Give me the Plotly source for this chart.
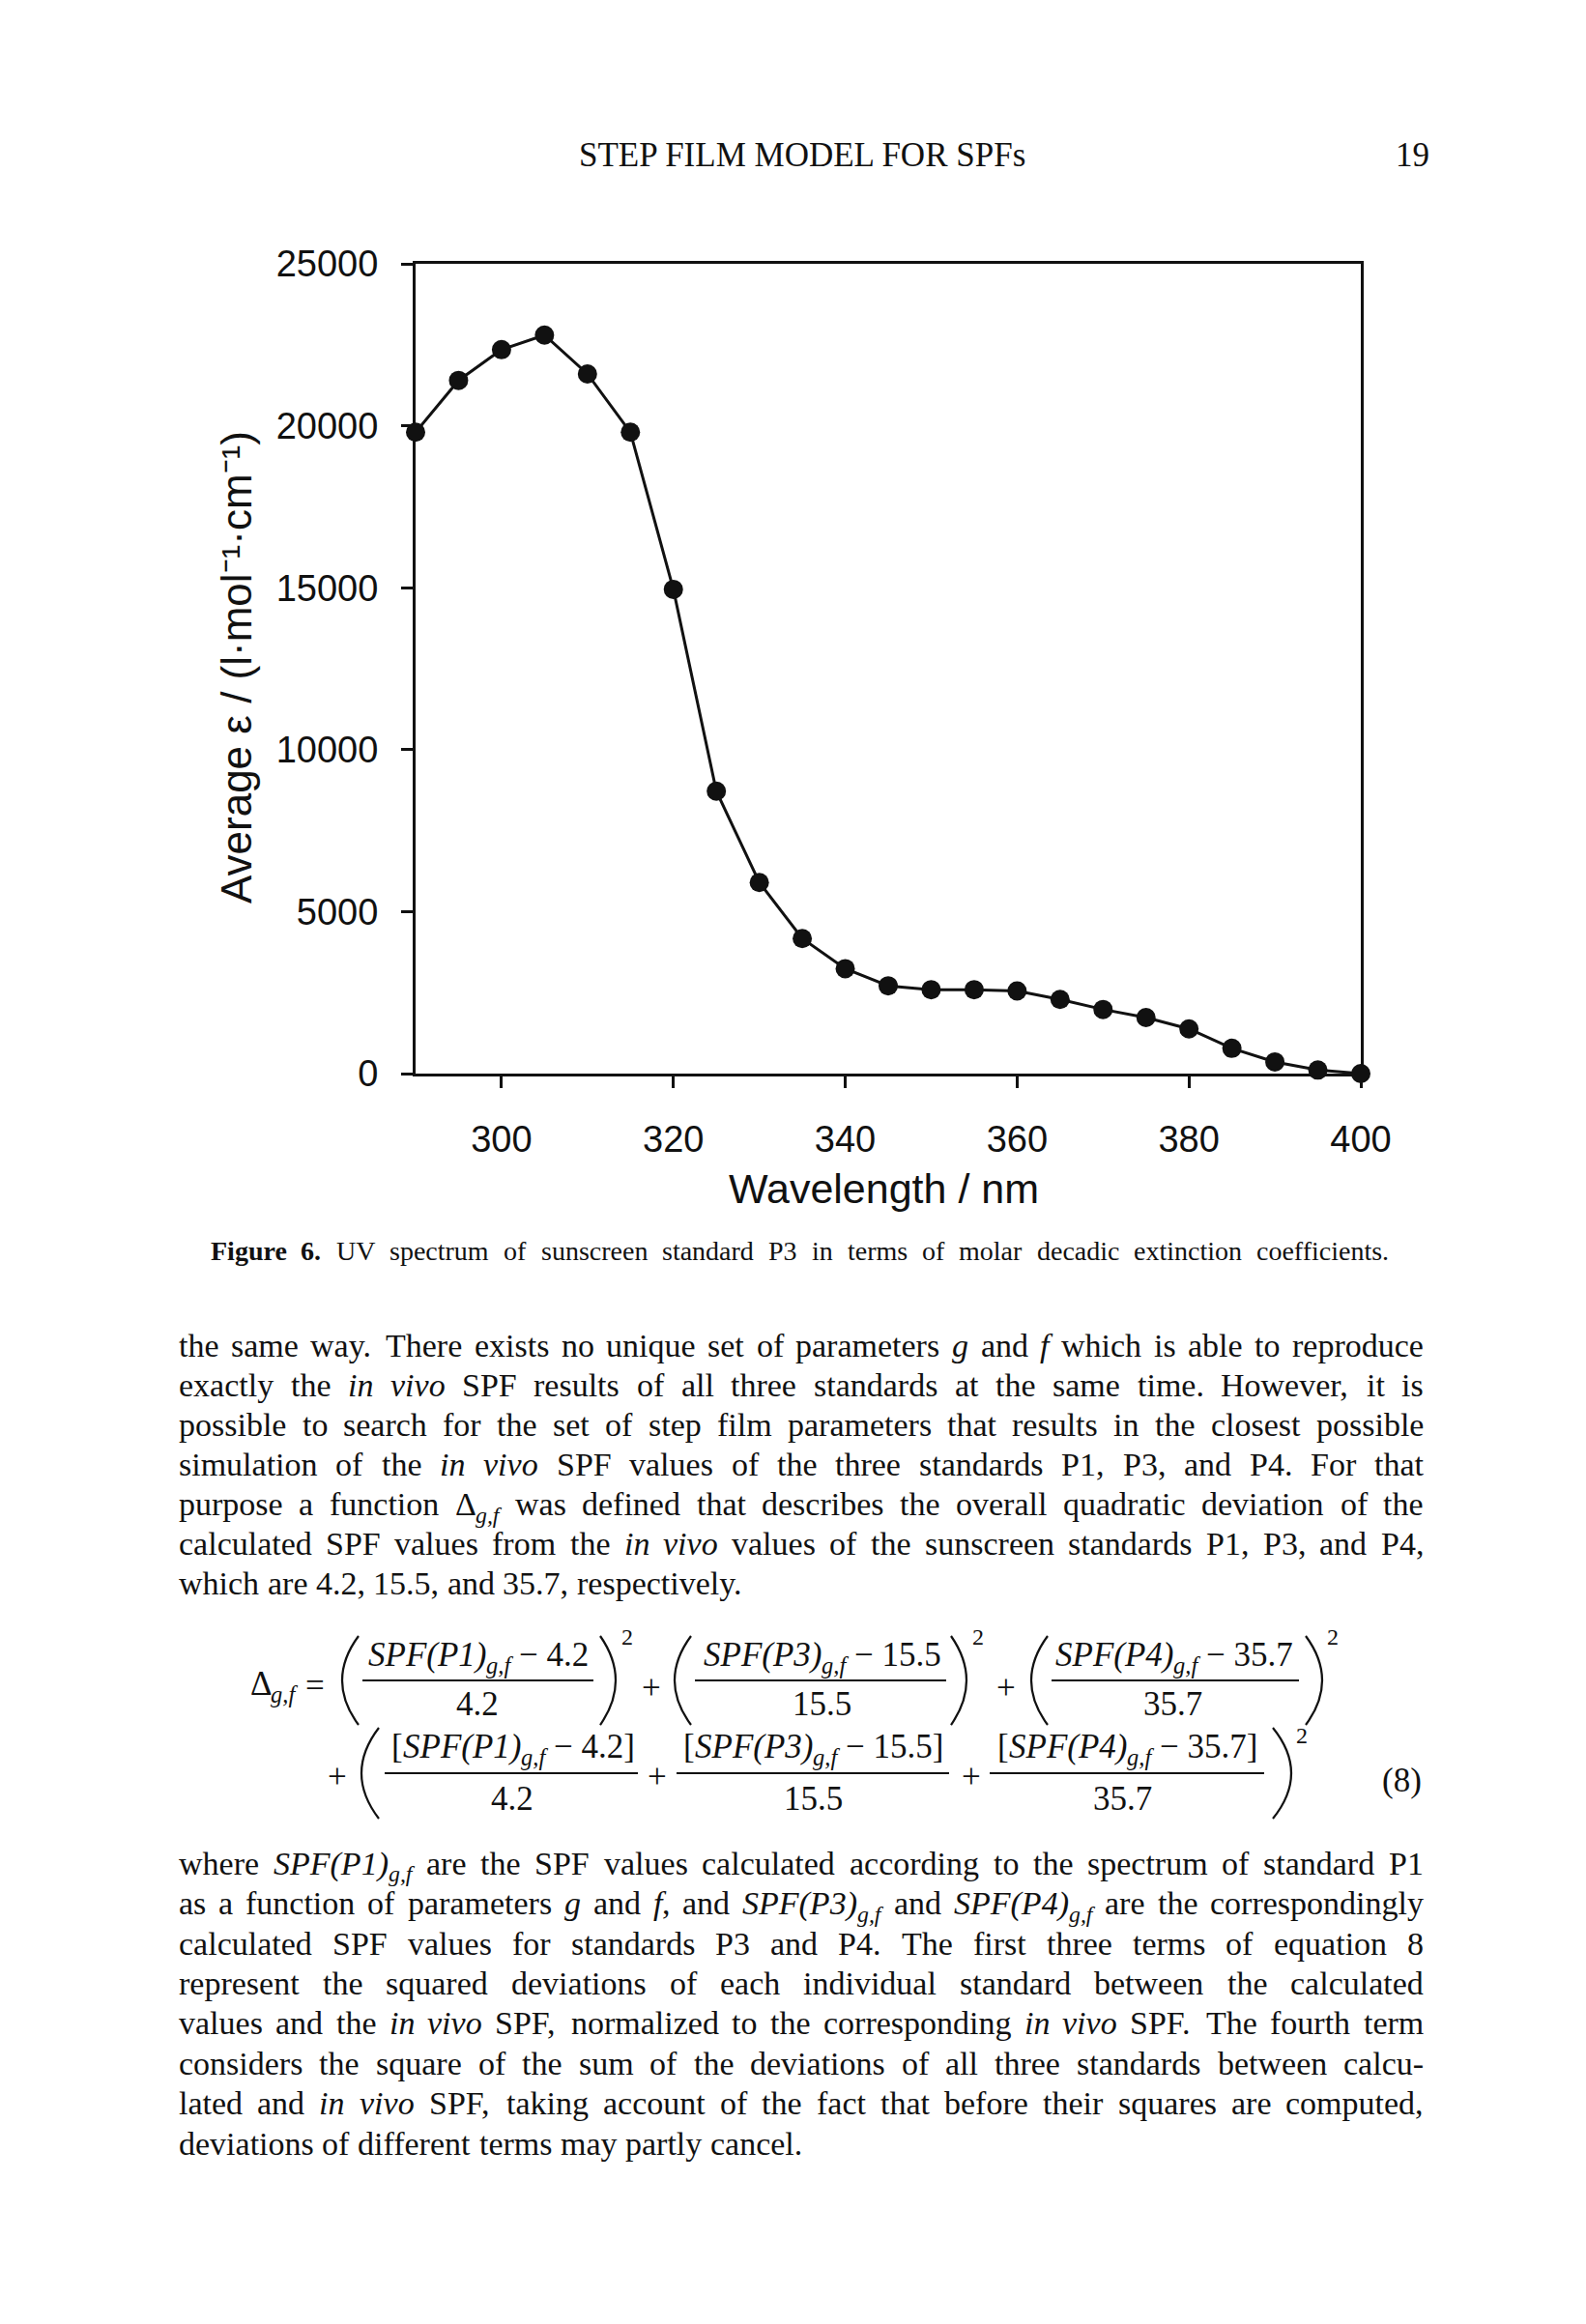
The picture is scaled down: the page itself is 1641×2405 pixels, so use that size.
import re
import plotly.graph_objects as go

# ---------------- data ----------------
wavelength = [290, 295, 300, 305, 310, 315, 320, 325, 330, 335, 340, 345,
              350, 355, 360, 365, 370, 375, 380, 385, 390, 395, 400]
epsilon = [19800, 21400, 22350, 22800, 21600, 19800, 14950, 8720, 5900, 4170,
           3240, 2710, 2590, 2590, 2550, 2290, 1980, 1730, 1380, 780, 360, 110, 0]
x_ticks = [300, 320, 340, 360, 380, 400]
y_ticks = [0, 5000, 10000, 15000, 20000, 25000]
x_title = "Wavelength / nm"
y_title = "Average ε / (l·mol⁻¹·cm⁻¹)"

header = "STEP FILM MODEL FOR SPFs"
page_no = "19"
caption = ("<b>Figure</b> <b>6.</b> UV spectrum of sunscreen standard P3 in terms of "
           "molar decadic extinction coefficients.")
para1 = [
    "the same way. There exists no unique set of parameters <i>g</i> and <i>f</i> which is able to reproduce",
    "exactly the <i>in</i> <i>vivo</i> SPF results of all three standards at the same time. However, it is",
    "possible to search for the set of step film parameters that results in the closest possible",
    "simulation of the <i>in</i> <i>vivo</i> SPF values of the three standards P1, P3, and P4. For that",
    "purpose a function Δ<sub><i>g,f</i></sub> was defined that describes the overall quadratic deviation of the",
    "calculated SPF values from the <i>in</i> <i>vivo</i> values of the sunscreen standards P1, P3, and P4,",
    "which are 4.2, 15.5, and 35.7, respectively.",
]
para2 = [
    "where <i>SPF(P1)</i><sub><i>g,f</i></sub> are the SPF values calculated according to the spectrum of standard P1",
    "as a function of parameters <i>g</i> and <i>f</i>, and <i>SPF(P3)</i><sub><i>g,f</i></sub> and <i>SPF(P4)</i><sub><i>g,f</i></sub> are the correspondingly",
    "calculated SPF values for standards P3 and P4. The first three terms of equation 8",
    "represent the squared deviations of each individual standard between the calculated",
    "values and the <i>in</i> <i>vivo</i> SPF, normalized to the corresponding <i>in</i> <i>vivo</i> SPF. The fourth term",
    "considers the square of the sum of the deviations of all three standards between calcu-",
    "lated and <i>in</i> <i>vivo</i> SPF, taking account of the fact that before their squares are computed,",
    "deviations of different terms may partly cancel.",
]
std_names = ["P1", "P3", "P4"]
std_spf = ["4.2", "15.5", "35.7"]

# ---------------- page geometry (pixels) ----------------
W, H = 1641, 2405
L, R, T, B = 422, 1400, 265, 1103


def px(x):
    return (x - L) / (R - L)


def py(y):
    return (B - y) / (B - T)


SERIF = "Liberation Serif"
SANS = "Liberation Sans"
INK = "#111111"
ASC = 0.891  # ascent of Liberation Serif
SUB_SCALE = 0.7
SUB_DROP = 0.22

ROMAN = dict(zip("abcdefghijklmnopqrstuvwxyz",
                 [444, 500, 444, 500, 444, 333, 500, 500, 278, 278, 500, 278, 778,
                  500, 500, 500, 500, 333, 389, 278, 500, 500, 722, 500, 500, 444]))
ROMAN.update(zip("ABCDEFGHIJKLMNOPQRSTUVWXYZ",
                 [722, 667, 667, 722, 611, 556, 722, 722, 333, 389, 722, 611, 889,
                  722, 722, 556, 722, 667, 556, 611, 722, 722, 944, 722, 722, 611]))
ITAL = dict(zip("abcdefghijklmnopqrstuvwxyz",
                [500, 500, 444, 500, 444, 278, 500, 500, 278, 278, 444, 278, 722,
                 500, 500, 500, 500, 389, 389, 278, 500, 444, 667, 444, 444, 389]))
ITAL.update(zip("ABCDEFGHIJKLMNOPQRSTUVWXYZ",
                [611, 611, 667, 722, 611, 611, 722, 722, 333, 444, 667, 556, 833,
                 667, 722, 611, 722, 611, 500, 556, 722, 611, 833, 611, 556, 556]))
PUNCT = {" ": 250, ".": 250, ",": 250, "-": 333, "(": 333, ")": 333, "[": 333,
         "]": 333, "Δ": 612, "−": 564, "+": 564, "=": 564, "/": 278, ":": 278, ";": 278}
for d in (ROMAN, ITAL):
    d.update(PUNCT)
    for c in "0123456789":
        d[c] = 500


def text_width(html, fs):
    w, ital, sub, bld = 0.0, False, False, False
    for tok in re.split(r"(<[^>]+>)", html):
        if tok.startswith("<"):
            t = tok.lower()
            if t == "<i>":
                ital = True
            elif t == "</i>":
                ital = False
            elif t == "<sub>":
                sub = True
            elif t == "</sub>":
                sub = False
            elif t == "<b>":
                bld = True
            elif t == "</b>":
                bld = False
            continue
        tbl = ITAL if ital else ROMAN
        for ch in tok:
            w += tbl.get(ch, 500) * (SUB_SCALE if sub else 1.0) * (1.06 if bld else 1.0)
    return w / 1000.0 * fs


annotations = []
shapes = []


def plain_text(html, x, baseline, fs, xanchor="left", family=SERIF):
    """One annotation; an <i>/<b> wrapper becomes the font style."""
    style = "italic" if "<i>" in html else "normal"
    weight = "bold" if "<b>" in html else "normal"
    text = re.sub(r"<[^>]+>", "", html)
    if not text.strip():
        return
    annotations.append(dict(
        text=text, x=px(x), y=py(baseline - ASC * fs), xref="paper", yref="paper",
        xanchor=xanchor, yanchor="top", showarrow=False, borderpad=0,
        font=dict(family=family, size=fs, color=INK, style=style, weight=weight)))


def rich_text(html, x, baseline, fs):
    """Draw html starting at x; subscripts and style runs become own texts."""
    for seg in re.split(r"(<sub>.*?</sub>|<i>.*?</i>|<b>.*?</b>)", html):
        if not seg:
            continue
        if seg.startswith("<sub>"):
            inner = seg[5:-6]
            sfs = fs * SUB_SCALE
            plain_text(inner, x, baseline + SUB_DROP * fs, sfs)
            x += text_width(inner, sfs)
        else:
            visible = re.sub(r"<[^>]+>", "", seg)
            lead = len(visible) - len(visible.lstrip(" "))
            x += lead * ROMAN[" "] / 1000.0 * fs
            body = seg.replace(" " * lead, "", 1) if lead and not seg.startswith("<") else seg
            plain_text(body, x, baseline, fs)
            x += text_width(body, fs)
    return x


def place_line(html, left, right, baseline, fs, justify=True):
    words = html.split(" ")
    widths = [text_width(w, fs) for w in words]
    if justify and len(words) > 1:
        gap = (right - left - sum(widths)) / (len(words) - 1)
    else:
        gap = 0.25 * fs
    x = left
    for w, wd in zip(words, widths):
        rich_text(w, x, baseline, fs)
        x += wd + gap


def place_centered(html, center, baseline, fs):
    rich_text(html, center - text_width(html, fs) / 2, baseline, fs)


def hline(x0, x1, y, width=2):
    shapes.append(dict(type="line", xref="paper", yref="paper",
                       x0=px(x0), x1=px(x1), y0=py(y), y1=py(y),
                       line=dict(color=INK, width=width)))


def paren(x_end, x_outer, ytop, ybot, width=2.2):
    xc = 2 * x_outer - x_end
    ym = (ytop + ybot) / 2
    path = "M {:.5f},{:.5f} Q {:.5f},{:.5f} {:.5f},{:.5f}".format(
        px(x_end), py(ytop), px(xc), py(ym), px(x_end), py(ybot))
    shapes.append(dict(type="path", xref="paper", yref="paper", path=path,
                       line=dict(color=INK, width=width)))


# ---------------- header ----------------
plain_text(header, 822, 163, 35, xanchor="center")
plain_text(page_no, 1453, 163, 35, xanchor="center")

# ---------------- caption and body text ----------------
place_line(caption, 209, 1429, 1295, 28)

BODY_FS = 34
LEFT, RIGHT = 176, 1464
for i, line in enumerate(para1):
    place_line(line, LEFT, RIGHT, 1395 + 41.1 * i, BODY_FS, justify=(i < len(para1) - 1))
for i, line in enumerate(para2):
    place_line(line, LEFT, RIGHT, 1931 + 41.4 * i, BODY_FS, justify=(i < len(para2) - 1))

# ---------------- equation (8) ----------------
EQ = 35
rich_text("Δ<sub><i>g,f</i></sub>", 250, 1745, EQ)
plain_text("=", 318, 1747, EQ, xanchor="center")

row1 = dict(num_base=1715, line_y=1731, den_base=1766,
            centers=[486, 842, 1206], den_centers=[486, 842, 1205],
            lines=[(367, 606), (711, 971), (1080, 1336)])
for k in range(3):
    place_centered("<i>SPF(%s)</i><sub><i>g,f</i></sub> − %s" % (std_names[k], std_spf[k]),
                   row1["centers"][k], row1["num_base"], EQ)
    plain_text(std_spf[k], row1["den_centers"][k], row1["den_base"], EQ, xanchor="center")
    hline(*row1["lines"][k], row1["line_y"])

# parentheses row 1
for (xo, xe) in [(346, 363), (690, 707), (1059, 1076)]:
    paren(xe, xo, 1685, 1777)
for (xe, xo) in [(613, 629), (976, 992), (1343, 1360)]:
    paren(xe, xo, 1685, 1777)
for xs in [641, 1004, 1371]:
    plain_text("2", xs, 1693, 24, xanchor="center")
for xc in [666, 1033]:
    plain_text("+", xc, 1749, EQ, xanchor="center")

row2 = dict(num_base=1810, line_y=1827, den_base=1864,
            centers=[522, 833, 1158], den_centers=[522, 833, 1153],
            lines=[(390, 652), (692, 974), (1016, 1300)])
for k in range(3):
    place_centered("[<i>SPF(%s)</i><sub><i>g,f</i></sub> − %s]" % (std_names[k], std_spf[k]),
                   row2["centers"][k], row2["num_base"], EQ)
    plain_text(std_spf[k], row2["den_centers"][k], row2["den_base"], EQ, xanchor="center")
    hline(*row2["lines"][k], row2["line_y"])
paren(384, 366, 1780, 1874)
paren(1309, 1328, 1780, 1874)
plain_text("2", 1339, 1795, 24, xanchor="center")
for xc in [341, 672, 997]:
    plain_text("+", xc, 1841, EQ, xanchor="center")
plain_text("(8)", 1442, 1845, EQ, xanchor="center")

# ---------------- axis titles ----------------
annotations.append(dict(text=x_title, x=px(906), y=py(1222), xref="paper", yref="paper",
                        xanchor="center", yanchor="middle", showarrow=False,
                        font=dict(family=SANS, size=43, color=INK)))
annotations.append(dict(text=y_title, x=px(236), y=py(683), xref="paper", yref="paper",
                        xanchor="center", yanchor="middle", showarrow=False, textangle=-90,
                        font=dict(family=SANS, size=44, color=INK)))

# ---------------- figure ----------------
fig = go.Figure()
fig.add_trace(go.Scatter(
    x=wavelength, y=epsilon, mode="lines+markers",
    line=dict(color=INK, width=3),
    marker=dict(color=INK, size=20, symbol="circle"),
    cliponaxis=False, showlegend=False, hoverinfo="x+y"))

axis_common = dict(showgrid=False, zeroline=False, showline=True, linewidth=3,
                   linecolor=INK, mirror=True, ticks="outside", ticklen=12,
                   tickwidth=3, tickcolor=INK,
                   tickfont=dict(family=SANS, size=38, color=INK))
fig.update_xaxes(range=[290, 400], tickvals=x_ticks, ticktext=[str(v) for v in x_ticks],
                 ticklabelstandoff=20, **axis_common)
fig.update_yaxes(range=[0, 25000], tickvals=y_ticks, ticktext=[str(v) for v in y_ticks],
                 ticklabelstandoff=16, **axis_common)

fig.update_layout(
    width=W, height=H, autosize=False,
    margin=dict(l=L, r=W - R, t=T, b=H - B, pad=0),
    paper_bgcolor="white", plot_bgcolor="white",
    annotations=annotations, shapes=shapes,
    font=dict(family=SERIF, color=INK),
)

fig.write_html("out.html")
